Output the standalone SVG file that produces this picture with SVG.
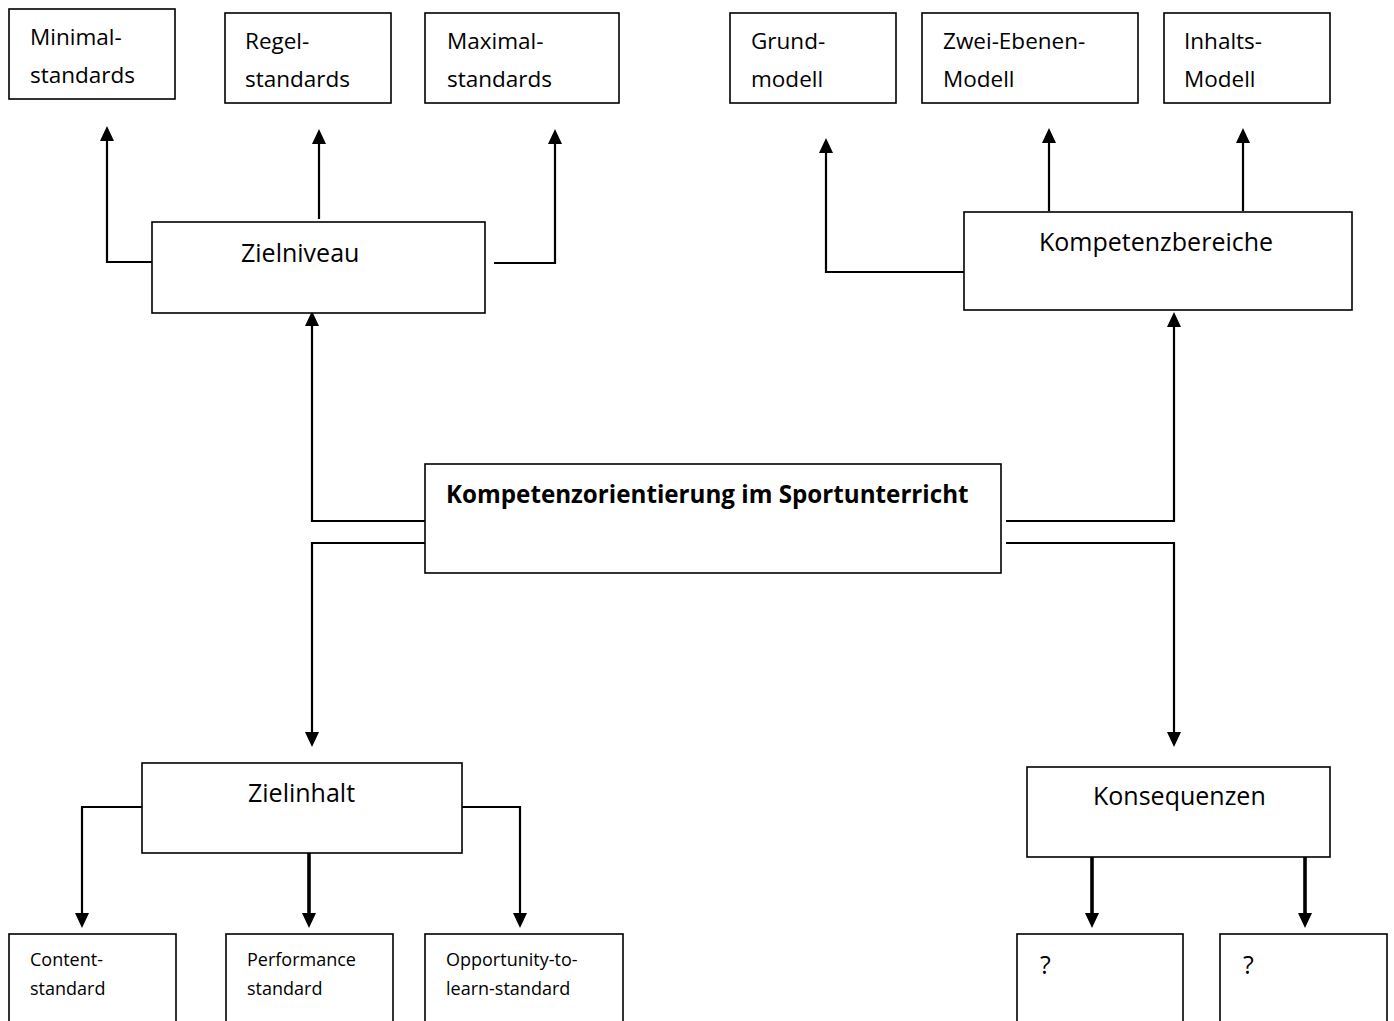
<svg xmlns="http://www.w3.org/2000/svg" width="1394" height="1021" viewBox="0 0 1394 1021">
<style>
.box{fill:#fff;stroke:#000;stroke-width:1.6}
.t{font-family:"Open Sans","Noto Sans",sans-serif;font-size:22.5px;fill:#000}
.m{font-family:"Open Sans","Noto Sans",sans-serif;font-size:25px;fill:#000}
.s{font-family:"Open Sans","Noto Sans",sans-serif;font-size:18px;fill:#000}
.b{font-family:"Open Sans","Noto Sans",sans-serif;font-size:24.2px;font-weight:bold;fill:#000}
.c{fill:none;stroke:#000;stroke-width:2.2;marker-end:url(#ah)}
.ct{fill:none;stroke:#000;stroke-width:3.6;marker-end:url(#ah)}
</style>
<defs>
<marker id="ah" viewBox="0 0 15 14" refX="5" refY="7" markerWidth="15" markerHeight="14" markerUnits="userSpaceOnUse" orient="auto">
<path d="M0,0 L15,7 L0,14 z" fill="#000"/>
</marker>
</defs>
<rect width="1394" height="1021" fill="#fff"/>
<g id="connectors">
<path class="c" d="M152,262 H107 V136"/>
<path class="c" d="M319,219 V139"/>
<path class="c" d="M494,263 H555 V139"/>
<path class="c" d="M964,272 H826 V148"/>
<path class="c" d="M1049,211 V138"/>
<path class="c" d="M1243,211 V138"/>
<path class="c" d="M425,521 H312 V321"/>
<path class="c" d="M425,543 H312 V737"/>
<path class="c" d="M1006,521 H1174 V322"/>
<path class="c" d="M1006,543 H1174 V737"/>
<path class="c" d="M142,807 H82 V918"/>
<path class="ct" d="M309,853 V918"/>
<path class="c" d="M459,807 H520 V918"/>
<path class="ct" d="M1092,856 V918"/>
<path class="ct" d="M1305,856 V918"/>
</g>
<g id="minimal"><rect class="box" x="9" y="9" width="166" height="90"/><text class="t" x="30" y="45">Minimal-</text><text class="t" x="30" y="83">standards</text></g>
<g id="regel"><rect class="box" x="225" y="13" width="166" height="90"/><text class="t" x="245" y="49">Regel-</text><text class="t" x="245" y="87">standards</text></g>
<g id="maximal"><rect class="box" x="425" y="13" width="194" height="90"/><text class="t" x="447" y="49">Maximal-</text><text class="t" x="447" y="87">standards</text></g>
<g id="grund"><rect class="box" x="730" y="13" width="166" height="90"/><text class="t" x="751" y="49">Grund-</text><text class="t" x="751" y="87">modell</text></g>
<g id="zwei"><rect class="box" x="922" y="13" width="216" height="90"/><text class="t" x="943" y="49">Zwei-Ebenen-</text><text class="t" x="943" y="87">Modell</text></g>
<g id="inhalts"><rect class="box" x="1164" y="13" width="166" height="90"/><text class="t" x="1184" y="49">Inhalts-</text><text class="t" x="1184" y="87">Modell</text></g>
<g id="zielniveau"><rect class="box" x="152" y="222" width="333" height="91"/><text class="m" x="241" y="262">Zielniveau</text></g>
<g id="kompetenzbereiche"><rect class="box" x="964" y="212" width="388" height="98"/><text class="m" x="1039" y="251">Kompetenzbereiche</text></g>
<g id="center"><rect class="box" x="425" y="464" width="576" height="109"/><text class="b" x="446" y="503">Kompetenzorientierung im Sportunterricht</text></g>
<g id="zielinhalt"><rect class="box" x="142" y="763" width="320" height="90"/><text class="m" x="248" y="802">Zielinhalt</text></g>
<g id="konsequenzen"><rect class="box" x="1027" y="767" width="303" height="90"/><text class="m" x="1093" y="805">Konsequenzen</text></g>
<g id="content"><rect class="box" x="9" y="934" width="167" height="100"/><text class="s" x="30" y="966">Content-</text><text class="s" x="30" y="995">standard</text></g>
<g id="performance"><rect class="box" x="226" y="934" width="167" height="100"/><text class="s" x="247" y="966">Performance</text><text class="s" x="247" y="995">standard</text></g>
<g id="opportunity"><rect class="box" x="425" y="934" width="198" height="100"/><text class="s" x="446" y="966">Opportunity-to-</text><text class="s" x="446" y="995">learn-standard</text></g>
<g id="q1"><rect class="box" x="1017" y="934" width="166" height="100"/><text class="m" x="1040" y="974">?</text></g>
<g id="q2"><rect class="box" x="1220" y="934" width="167" height="100"/><text class="m" x="1243" y="974">?</text></g>
</svg>
